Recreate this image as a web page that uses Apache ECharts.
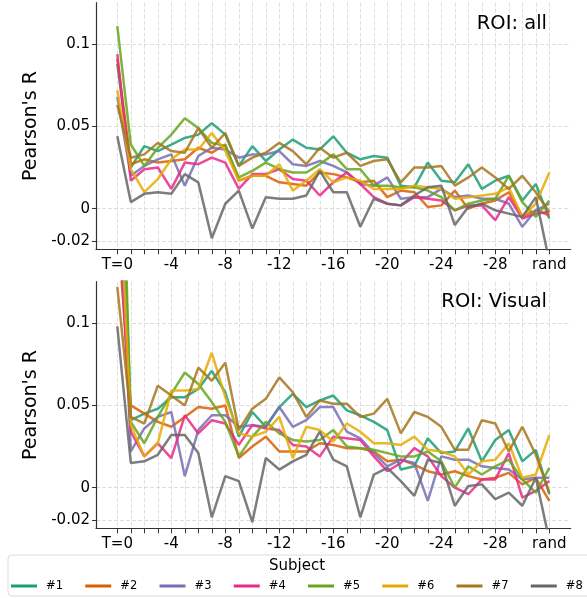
<!DOCTYPE html>
<html>
<head>
<meta charset="utf-8">
<script src="https://cdn.jsdelivr.net/npm/echarts@6/dist/echarts.min.js"></script>
<style>
html, body { margin: 0; padding: 0; background: #fff; }
#chart { width: 587px; height: 598px; }
</style>
</head>
<body>
<div id="chart"></div>
<script>
// lag categories on the x axis (index 0..32)
var categories = ['T=0', '-1', '-2', '-3', '-4', '-5', '-6', '-7', '-8', '-9', '-10',
  '-11', '-12', '-13', '-14', '-15', '-16', '-17', '-18', '-19', '-20', '-21', '-22',
  '-23', '-24', '-25', '-26', '-27', '-28', '-29', '-30', '-31', 'rand'];
var xLabelIdx = [0, 4, 8, 12, 16, 20, 24, 28, 32];
var yTicks = [-0.02, 0, 0.05, 0.1];
var yTickLabels = ['-0.02', '0', '0.05', '0.1'];

var subjects = ['#1', '#2', '#3', '#4', '#5', '#6', '#7', '#8'];
var colors = ['#1b9e77', '#d95f02', '#7570b3', '#e7298a', '#66a61e', '#e6ab02', '#a6761d', '#666666'];

// ROI: all
var all_s1 = [0.088, 0.025, 0.038, 0.035, 0.039, 0.043, 0.045, 0.052, 0.045, 0.026, 0.038, 0.029, 0.036, 0.042, 0.037, 0.036, 0.044, 0.034, 0.030, 0.032, 0.031, 0.014, 0.013, 0.028, 0.017, 0.016, 0.027, 0.012, 0.017, 0.020, 0.005, 0.015, -0.006];
var all_s2 = [0.091, 0.027, 0.030, 0.028, 0.029, 0.030, 0.037, 0.034, 0.039, 0.017, 0.020, 0.020, 0.016, 0.015, 0.014, 0.022, 0.021, 0.019, 0.016, 0.017, 0.007, 0.011, 0.010, 0.001, 0.002, 0.011, 0.000, 0.003, 0.005, 0.010, -0.005, -0.001, -0.004];
var all_s3 = [0.068, 0.020, 0.026, 0.030, 0.033, 0.014, 0.032, 0.037, 0.036, 0.031, 0.033, 0.033, 0.035, 0.027, 0.026, 0.029, 0.026, 0.022, 0.015, 0.014, 0.019, 0.006, 0.007, 0.007, 0.012, 0.007, 0.008, 0.006, 0.006, 0.003, -0.011, -0.001, 0.003];
var all_s4 = [0.094, 0.017, 0.024, 0.025, 0.012, 0.028, 0.027, 0.031, 0.028, 0.012, 0.021, 0.021, 0.024, 0.018, 0.017, 0.008, 0.016, 0.022, 0.015, 0.007, 0.003, 0.002, 0.007, 0.006, 0.005, -0.001, 0.002, 0.002, -0.007, 0.007, -0.006, -0.003, -0.002];
var all_s5 = [0.111, 0.039, 0.026, 0.037, 0.045, 0.055, 0.049, 0.040, 0.038, 0.019, 0.023, 0.028, 0.024, 0.022, 0.022, 0.027, 0.033, 0.024, 0.024, 0.014, 0.014, 0.013, 0.013, 0.011, 0.007, -0.001, 0.003, 0.005, 0.006, 0.020, 0.004, -0.005, 0.005];
var all_s6 = [0.072, 0.024, 0.010, 0.018, 0.030, 0.036, 0.036, 0.046, 0.035, 0.017, 0.020, 0.020, 0.027, 0.011, 0.017, 0.024, 0.016, 0.019, 0.017, 0.012, 0.012, 0.012, 0.014, 0.013, 0.012, 0.006, 0.007, 0.008, 0.009, 0.013, -0.005, 0.003, 0.022];
var all_s7 = [0.063, 0.031, 0.033, 0.040, 0.035, 0.034, 0.049, 0.037, 0.046, 0.026, 0.031, 0.034, 0.040, 0.035, 0.027, 0.037, 0.031, 0.034, 0.026, 0.029, 0.030, 0.016, 0.025, 0.025, 0.026, 0.014, 0.019, 0.025, 0.019, 0.012, 0.020, 0.010, -0.002];
var all_s8 = [0.044, 0.004, 0.009, 0.010, 0.009, 0.021, 0.016, -0.018, 0.003, 0.011, -0.012, 0.007, 0.006, 0.006, 0.008, 0.023, 0.010, 0.010, -0.011, 0.006, 0.003, 0.002, 0.008, 0.013, 0.014, -0.010, 0.001, 0.003, -0.001, -0.003, -0.005, 0.007, -0.032];

// ROI: Visual (T=0 values mostly run off the top)
var vis_s1 = [0.28, 0.041, 0.045, 0.048, 0.055, 0.055, 0.060, 0.071, 0.058, 0.031, 0.046, 0.037, 0.049, 0.057, 0.049, 0.053, 0.056, 0.047, 0.044, 0.040, 0.035, 0.011, 0.013, 0.030, 0.021, 0.022, 0.036, 0.016, 0.029, 0.035, 0.016, 0.023, -0.004];
var vis_s2 = [0.162, 0.050, 0.045, 0.040, 0.037, 0.043, 0.049, 0.048, 0.050, 0.018, 0.025, 0.031, 0.022, 0.022, 0.022, 0.027, 0.026, 0.024, 0.024, 0.022, 0.016, 0.017, 0.014, 0.010, 0.008, 0.010, 0.007, 0.005, 0.006, 0.009, 0.002, 0.006, -0.008];
var vis_s3 = [0.21, 0.022, 0.036, 0.043, 0.046, 0.007, 0.035, 0.044, 0.044, 0.037, 0.038, 0.037, 0.049, 0.037, 0.041, 0.049, 0.049, 0.034, 0.030, 0.021, 0.013, 0.017, 0.015, -0.008, 0.019, 0.017, 0.017, 0.013, 0.012, 0.011, 0.005, 0.006, 0.006];
var vis_s4 = [0.18, 0.034, 0.019, 0.027, 0.018, 0.044, 0.033, 0.041, 0.039, 0.026, 0.038, 0.036, 0.035, 0.026, 0.025, 0.019, 0.031, 0.030, 0.029, 0.019, 0.010, 0.015, 0.024, 0.019, 0.007, 0.000, -0.004, 0.005, 0.005, 0.021, -0.006, -0.002, 0.004];
var vis_s5 = [0.32, 0.040, 0.027, 0.043, 0.057, 0.070, 0.063, 0.052, 0.040, 0.019, 0.031, 0.040, 0.033, 0.029, 0.028, 0.029, 0.035, 0.025, 0.024, 0.023, 0.021, 0.019, 0.019, 0.022, 0.016, 0.000, 0.013, 0.008, 0.013, 0.017, 0.005, -0.003, 0.012];
var vis_s6 = [0.21, 0.038, 0.019, 0.027, 0.059, 0.059, 0.060, 0.082, 0.055, 0.033, 0.031, 0.034, 0.043, 0.018, 0.037, 0.035, 0.028, 0.039, 0.034, 0.027, 0.027, 0.026, 0.031, 0.023, 0.022, 0.019, 0.008, 0.016, 0.017, 0.027, 0.006, 0.008, 0.032];
var vis_s7 = [0.122, 0.043, 0.039, 0.062, 0.056, 0.050, 0.073, 0.065, 0.076, 0.035, 0.048, 0.054, 0.067, 0.058, 0.043, 0.053, 0.051, 0.051, 0.043, 0.045, 0.054, 0.033, 0.046, 0.043, 0.037, 0.023, 0.023, 0.041, 0.039, 0.022, 0.037, 0.020, -0.003];
var vis_s8 = [0.098, 0.015, 0.016, 0.020, 0.032, 0.032, 0.021, -0.018, 0.007, 0.004, -0.021, 0.018, 0.011, 0.016, 0.020, 0.034, 0.017, 0.013, -0.018, 0.008, 0.012, 0.004, -0.005, 0.017, 0.015, -0.011, 0.001, 0.002, -0.007, -0.003, -0.011, 0.006, -0.032];

var allData = [all_s1, all_s2, all_s3, all_s4, all_s5, all_s6, all_s7, all_s8];
var visData = [vis_s1, vis_s2, vis_s3, vis_s4, vis_s5, vis_s6, vis_s7, vis_s8];

var FONT = 'DejaVu Sans';
var tickIdx = categories.map(function (c, i) { return i; });
var gridLine = { show: true, lineStyle: { color: '#d6d6d6', width: 0.8, type: [4, 2] } };
var spine = { show: true, onZero: false, lineStyle: { color: '#333', width: 1.2 } };

function makeX(g) {
  return {
    type: 'value', gridIndex: g, min: -1.578, max: 33.585,
    axisLine: spine,
    axisTick: { show: true, customValues: tickIdx, length: 5, lineStyle: { color: '#333' } },
    axisLabel: {
      customValues: xLabelIdx, margin: 8, fontSize: 15, color: '#000', fontFamily: FONT,
      formatter: function (v) { return categories[Math.round(v)]; }
    },
    splitLine: gridLine
  };
}

function makeY(g) {
  return {
    type: 'value', gridIndex: g, min: -0.0247, max: 0.1252,
    name: "Pearson's R", nameLocation: 'middle', nameGap: 48,
    nameTextStyle: { fontSize: 19, color: '#000', fontFamily: FONT },
    axisLine: spine,
    axisTick: { show: true, customValues: yTicks, length: 4, lineStyle: { color: '#333' } },
    axisLabel: {
      customValues: yTicks, margin: 6, fontSize: 15, color: '#000', fontFamily: FONT,
      formatter: function (v) {
        var k = yTicks.indexOf(v);
        return k >= 0 ? yTickLabels[k] : String(v);
      }
    },
    splitLine: gridLine
  };
}

var series = [];
[allData, visData].forEach(function (panel, g) {
  panel.forEach(function (vals, s) {
    series.push({
      name: subjects[s], type: 'line', xAxisIndex: g, yAxisIndex: g,
      data: vals.map(function (v, i) { return [i, v]; }),
      symbol: 'none', color: colors[s], clip: true, animation: false,
      lineStyle: { width: 2.5, opacity: 0.85 }
    });
  });
});

var chart = echarts.init(document.getElementById('chart'));
chart.setOption({
  backgroundColor: '#fff',
  textStyle: { fontFamily: FONT },
  title: [
    { text: 'ROI: all', right: 40, top: 14, padding: 0, textStyle: { fontSize: 19.5, fontWeight: 'normal', color: '#000', fontFamily: FONT } },
    { text: 'ROI: Visual', right: 40, top: 292, padding: 0, textStyle: { fontSize: 19.5, fontWeight: 'normal', color: '#000', fontFamily: FONT } },
    { text: 'Subject', left: 269, top: 559, padding: 0, textStyle: { fontSize: 15, fontWeight: 'normal', color: '#000', fontFamily: FONT } }
  ],
  grid: [
    { left: 96, top: 2.7, width: 474.7, height: 246.6 },
    { left: 96, top: 281.7, width: 474.7, height: 246.6 }
  ],
  xAxis: [makeX(0), makeX(1)],
  yAxis: [makeY(0), makeY(1)],
  legend: {
    data: subjects, left: 8, top: 555, width: 640, orient: 'horizontal',
    icon: 'rect', itemWidth: 26, itemHeight: 3, itemGap: 22.3,
    padding: [25, 12, 4, 3], borderColor: '#dcdcdc', borderWidth: 1, borderRadius: 4,
    textStyle: { fontSize: 11.5, color: '#000', fontFamily: FONT, padding: [0, 0, 0, 4] }
  },
  series: series
});
</script>
</body>
</html>
